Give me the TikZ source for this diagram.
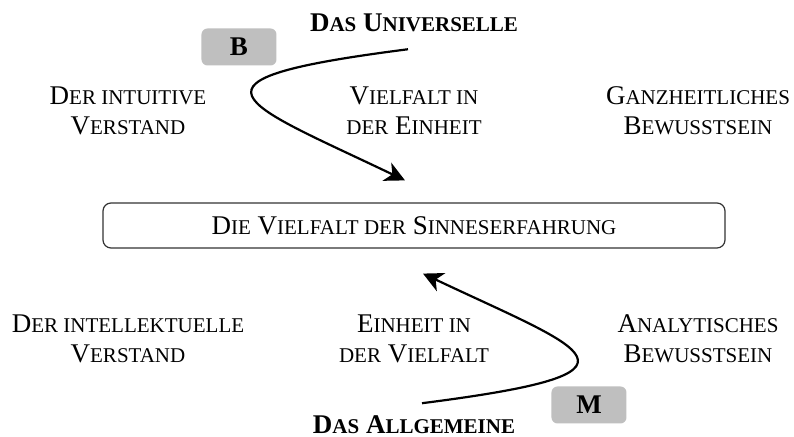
\documentclass[tikz,border=0pt]{standalone}
\usepackage{fontspec}
\setmainfont{Liberation Serif}
\usetikzlibrary{arrows.meta,positioning}

% kleine Kapitaelchen (Schrift hat keine echten)
\newcommand\kk[1]{{\fontsize{10.5}{15}\selectfont\MakeUppercase{#1}}}

\begin{document}
\begin{tikzpicture}[>={Stealth[length=10pt,width=10pt,inset=3pt]},%
    node distance=57pt,on grid,line width=1.1pt,
    lbl/.style={align=center,font=\fontsize{13.5}{15}\selectfont},
    titel/.style={align=center,font=\fontsize{13.5}{15}\selectfont\bfseries},
    marke/.style={fill=black!25,rounded corners=3pt,minimum width=37.5pt,
      minimum height=18.5pt,font=\fontsize{13.5}{15}\selectfont\bfseries},
    kasten/.style={draw=black!80,line width=0.6pt,rounded corners=4pt,
      minimum width=311pt,minimum height=22.5pt,font=\fontsize{13.5}{15}\selectfont}]
    \useasboundingbox (-207pt,-105.75pt) rectangle (190pt,112.75pt);
    \node[kasten] (sinn) at (0,0) {D\kk{ie} V\kk{ielfalt der} S\kk{inneserfahrung}};
    % obere Reihe
    \node[lbl] (vielfalt) [above=57.25pt of sinn] {V\kk{ielfalt in}\\\kk{der} E\kk{inheit}};
    \node[lbl] (intuitiv) [left=143pt of vielfalt] {D\kk{er intuitive}\\V\kk{erstand}};
    \node[lbl] (ganzheit) [right=142pt of vielfalt] {G\kk{anzheitliches}\\B\kk{ewusstsein}};
    \node[titel] (univ) [above=101.5pt of sinn] {D\kk{as} U\kk{niverselle}};
    \node[marke] (boxB) [above left=89.25pt and 87.5pt of sinn] {B};
    % untere Reihe
    \node[lbl] (einheit) [below=56.75pt of sinn] {E\kk{inheit in}\\\kk{der} V\kk{ielfalt}};
    \node[lbl] (intellekt) [left=143pt of einheit] {D\kk{er intellektuelle}\\V\kk{erstand}};
    \node[lbl] (analyt) [right=142pt of einheit] {A\kk{nalytisches}\\B\kk{ewusstsein}};
    \node[titel] (allg) [below=99.75pt of sinn] {D\kk{as} A\kk{llgemeine}};
    \node[marke] (boxM) [below right=89.75pt and 87.5pt of sinn] {M};
    % Boegen
    \draw[->] ([xshift=-3pt,yshift=-5pt]univ.south)
      .. controls +(-121.5pt,-15.5pt) and +(-82.5pt,39.5pt) ..
      ([xshift=-4.5pt,yshift=11pt]sinn.north);
    \draw[->] ([xshift=4pt,yshift=2.5pt]allg.north)
      .. controls +(121.5pt,15.5pt) and +(82.5pt,-39pt) ..
      ([xshift=4.5pt,yshift=-12.5pt]sinn.south);
\end{tikzpicture}
\end{document}
